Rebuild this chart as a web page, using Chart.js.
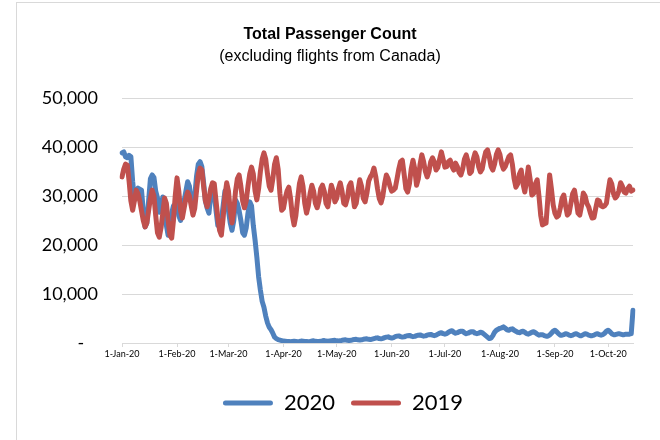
<!DOCTYPE html>
<html>
<head>
<meta charset="utf-8">
<script src="https://cdn.jsdelivr.net/npm/chart.js@4.4.1/dist/chart.umd.min.js"></script>
<style>
  html, body { margin: 0; padding: 0; background: #fff; overflow: hidden; }
  .frame { position: absolute; left: 16px; top: 2px; width: 720px; height: 520px; border: 1px solid #d9d9d9; }
  .wrap { position: absolute; left: 0; top: 0; width: 660px; height: 440px; }
</style>
</head>
<body>
<div class="frame"></div>
<div class="wrap"><canvas id="chart" width="660" height="440"></canvas></div>
<script>
// month ticks on the daily axis (day 0 = 1-Jan)
const monthStartDays = [0, 31, 60, 91, 121, 152, 182, 213, 244, 274];
const tickLabels = ["1-Jan-20", "1-Feb-20", "1-Mar-20", "1-Apr-20", "1-May-20",
  "1-Jun-20", "1-Jul-20", "1-Aug-20", "1-Sep-20", "1-Oct-20"];
const yTicks = [0, 10000, 20000, 30000, 40000, 50000];

// daily passengers, 1-Jan to 15-Oct
const passengers2020 = [
  38800, 39000, 38000, 37800, 38300, 38000, 33000, 29200, 30500, 31600,
  31400, 31200, 27000, 23700, 24500, 29000, 33500, 34300, 33800, 31000,
  29600, 26700, 27500, 29800, 28000, 24000, 22000, 23500, 26500, 28000,
  27500, 28500, 26000, 25000, 27000, 29000, 31000, 32900, 32000, 29000,
  27500, 30000, 34000, 36500, 37000, 36000, 32700, 29000, 27500, 26500,
  30000, 31500, 30500, 27000, 24000, 23700, 25000, 28000, 31000, 30000,
  27000, 24500, 23000, 25000, 29200, 28500, 27000, 25000, 22500, 22000,
  23500, 26500, 28800, 28000, 24000, 21000, 17500, 13500, 10800, 8500,
  7300, 5500, 4100, 3200, 2700, 2000, 1200, 900, 700, 600,
  500, 400, 350, 300, 300, 250, 300, 350, 300, 250,
  300, 400, 350, 300, 300, 250, 300, 400, 450, 350,
  300, 300, 350, 450, 500, 400, 350, 400, 450, 500,
  550, 450, 400, 450, 550, 600, 650, 550, 500, 550,
  650, 700, 750, 650, 600, 650, 750, 800, 850, 750,
  700, 800, 900, 1000, 1050, 900, 850, 950, 1100, 1200,
  1250, 1100, 1000, 1100, 1300, 1400, 1450, 1300, 1200, 1250,
  1400, 1500, 1550, 1400, 1300, 1350, 1500, 1600, 1650, 1500,
  1400, 1450, 1600, 1700, 1750, 1600, 1500, 1600, 1800, 2000,
  2100, 1900, 1800, 1900, 2200, 2400, 2500, 2200, 2000, 2100,
  2300, 2400, 2400, 2100, 1900, 2000, 2200, 2300, 2300, 2000,
  1900, 2000, 2200, 2100, 1800, 1500, 1200, 900, 1000, 1500,
  2200, 2600, 2800, 3000, 3100, 3300, 3000, 2700, 2600, 2800,
  2900, 2600, 2400, 2200, 2100, 2300, 2400, 2200, 1900, 1800,
  2000, 2200, 2300, 2100, 1800, 1600, 1700, 1700, 1500, 1400,
  1400, 1600, 2000, 2400, 2600, 2300, 1900, 1600, 1600, 1700,
  1900, 1800, 1600, 1500, 1600, 1800, 1900, 1700, 1500, 1500,
  1700, 1900, 1800, 1600, 1500, 1500, 1600, 1800, 1900, 1700,
  1600, 1700, 2000, 2400, 2600, 2300, 1900, 1700, 1700, 1800,
  1900, 1800, 1700, 1700, 1800, 1800, 1800, 1900, 6700
];

const passengers2019 = [
  33900, 35500, 36500, 36300, 33000, 29000, 27100, 29000, 31200, 30500,
  29000, 27000, 25000, 23700, 24500, 27000, 29500, 31200, 30000, 26000,
  22500, 21600, 23500, 26500, 29600, 28500, 25000, 22000, 21400, 25000,
  30000, 33700, 31000, 27000, 25500, 27500, 29500, 30800, 30000, 28000,
  26100, 27500, 31000, 34500, 35700, 35300, 32000, 29000, 27800, 29500,
  31500, 32700, 32500, 29000, 25500, 23000, 22000, 25500, 30000, 32700,
  31000, 27000, 24500, 27000, 31000, 33500, 34300, 32000, 29000, 27600,
  29000, 32000, 34500, 35900, 34500, 31000, 29200, 31500, 35000, 37500,
  38800, 37500, 34500, 32000, 31200, 33500, 36500, 37800, 35500, 30500,
  27100, 27500, 29500, 31000, 31800, 29500, 26000, 24100, 26000, 29500,
  32500, 33900, 32000, 28500, 26500, 28000, 30500, 32200, 31000, 28500,
  27600, 29000, 31500, 32200, 31000, 28500, 27800, 30000, 32200, 31000,
  28800, 29500, 31500, 32700, 31000, 28500, 28200, 29500, 32000, 32700,
  30500, 27800, 28500, 31000, 33300, 32000, 29500, 28800, 30500, 33000,
  33900, 34500, 35700, 34000, 31500, 29500, 28600, 30000, 32500, 34300,
  33500, 32000, 31000, 31200, 31600, 33500, 35500, 37000, 37300, 34500,
  31500, 30800, 32500, 35500, 37300, 35500, 32200, 33500, 36500, 38400,
  37000, 35000, 33900, 35000, 37000, 37800, 37000, 35300, 35800, 37500,
  39000, 37500, 35900, 36000, 37000, 37300, 36000, 35300, 36700, 36000,
  34800, 34300, 35500, 37500, 38400, 37000, 34600, 35000, 37500, 38800,
  38000, 36000, 34900, 35500, 37500, 39000, 39400, 38000, 36000, 35300,
  36500, 38500, 39400, 38500, 36500, 35500, 36000, 37000, 38000, 38400,
  36500, 33500, 31800, 32500, 34500, 35300, 32500, 30800, 33000, 35900,
  33500, 30200, 30500, 32500, 33300, 30000, 26000, 24100, 24300, 24500,
  29500, 34300, 31500, 28200, 26500, 25700, 26000, 27500, 29500, 30200,
  28000, 26100, 26500, 28500, 30500, 31200, 29000, 26500, 26100, 28000,
  30600, 30000, 28500, 27800, 26500, 25500, 25600, 27500, 29200, 29000,
  28000, 27800, 28000, 28500, 31000, 33300, 32500, 30500, 29600, 30000,
  31000, 32700, 32000, 30800, 30600, 31500, 32000, 31000, 31200
];

const days = passengers2020.map((v, i) => i);

// nudge the legend to the right, like in the original
const legendShift = {
  id: "legendShift",
  afterLayout(chart) {
    chart.legend.left += 13;
    chart.legend.right += 13;
  }
};

const ctx = document.getElementById("chart").getContext("2d");
new Chart(ctx, {
  type: "line",
  data: {
    labels: days,
    datasets: [
      {
        label: "2020",
        data: passengers2020,
        borderColor: "#4F81BD",
        backgroundColor: "#4F81BD",
        borderWidth: 5,
        pointRadius: 0,
        borderJoinStyle: "round",
        borderCapStyle: "round",
        order: 2
      },
      {
        label: "2019",
        data: passengers2019,
        borderColor: "#C0504D",
        backgroundColor: "#C0504D",
        borderWidth: 5,
        pointRadius: 0,
        borderJoinStyle: "round",
        borderCapStyle: "round",
        order: 1
      }
    ]
  },
  options: {
    responsive: false,
    animation: false,
    layout: { padding: { left: 27, right: 27, top: 25, bottom: 16 } },
    plugins: {
      tooltip: { enabled: false },
      title: {
        display: true,
        text: "Total Passenger Count",
        color: "#000",
        font: { family: "'Liberation Sans', Arial, sans-serif", size: 16, weight: "bold" },
        padding: { top: 0, bottom: 3 }
      },
      subtitle: {
        display: true,
        text: "(excluding flights from Canada)",
        color: "#000",
        font: { family: "'Liberation Sans', Arial, sans-serif", size: 16 },
        padding: { top: 0, bottom: 31.6 }
      },
      legend: {
        position: "bottom",
        labels: {
          boxWidth: 50,
          boxHeight: 5,
          padding: 16,
          color: "#000",
          useBorderRadius: true,
          borderRadius: 2.5,
          font: { family: "Lato, 'Open Sans', sans-serif", size: 22 },
          sort: (a, b) => a.datasetIndex - b.datasetIndex,
          generateLabels(chart) {
            const items = Chart.defaults.plugins.legend.labels.generateLabels(chart);
            items.forEach(it => { it.lineWidth = 0; });
            return items;
          }
        }
      }
    },
    scales: {
      x: {
        type: "category",
        offset: false,
        afterFit(scale) { scale.height = 33; },
        grid: { drawOnChartArea: false, drawTicks: true, tickLength: 4, color: "#d9d9d9" },
        border: { color: "#d9d9d9" },
        ticks: {
          autoSkip: false,
          maxRotation: 0,
          padding: 2,
          color: "#000",
          font: { family: "Lato, 'Open Sans', sans-serif", size: 9 },
          callback: (value, index) => {
            const m = monthStartDays.indexOf(index);
            return m >= 0 ? tickLabels[m] : null;
          }
        }
      },
      y: {
        min: yTicks[0],
        max: yTicks[yTicks.length - 1],
        afterFit(scale) { scale.width = 95; },
        afterBuildTicks(scale) { scale.ticks = yTicks.map(v => ({ value: v })); },
        grid: { color: "#d9d9d9", lineWidth: 1, drawTicks: false },
        border: { display: false },
        ticks: {
          padding: 24,
          color: "#000",
          font: { family: "Lato, 'Open Sans', sans-serif", size: 18 },
          callback: v => v === 0 ? "-   " : v.toLocaleString("en-US")
        }
      }
    }
  },
  plugins: [legendShift]
});
</script>
</body>
</html>
